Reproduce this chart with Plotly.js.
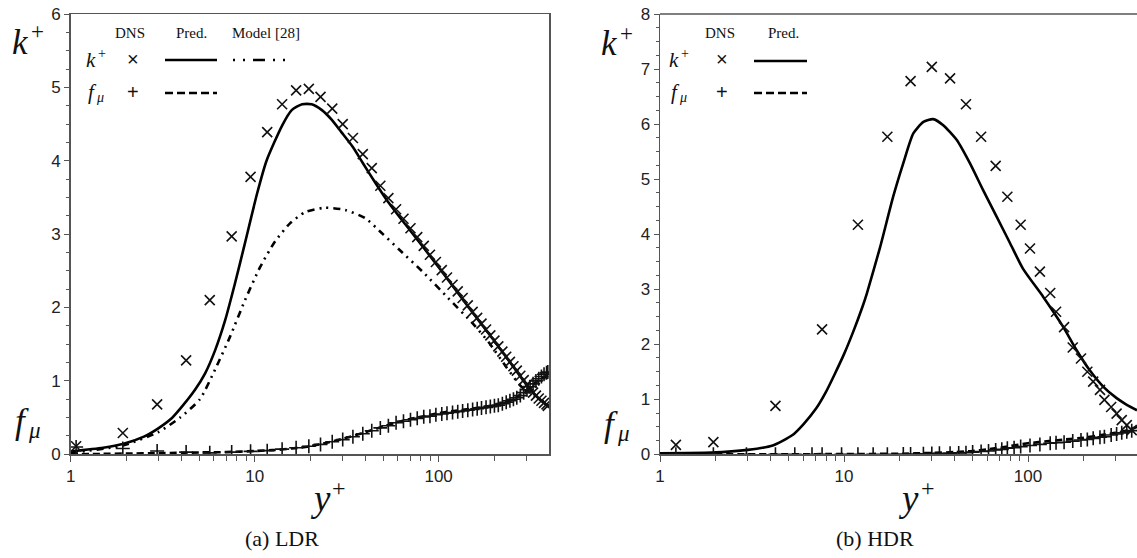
<!DOCTYPE html>
<html>
<head>
<meta charset="utf-8">
<script src="https://cdn.plot.ly/plotly-3.0.1.min.js"></script>
<style>html,body{margin:0;padding:0;background:#fff;}#chart{width:1137px;height:558px;}</style>
</head>
<body>
<div id="chart"></div>
<script>
// ---------------- DATA ----------------
// (a) LDR
const LDR_DNS_X = [1.07, 1.92, 2.95, 4.24, 5.7, 7.5, 9.5, 11.7, 14.1, 16.8, 19.7, 22.8, 26.4, 30.1, 34.2, 38.7, 43.3, 48.2, 53.3, 58.7, 64.4, 70.3, 76.5, 83, 89.7, 96.6, 104, 111, 119, 127, 135, 144, 153, 162, 171, 181, 191, 201, 211, 222, 233, 244, 255, 266, 278, 290, 302, 314, 326, 338, 350, 362, 374, 386, 392];
const LDR_K_DNS = [0.11, 0.29, 0.68, 1.28, 2.1, 2.97, 3.78, 4.39, 4.77, 4.96, 4.98, 4.87, 4.71, 4.50, 4.31, 4.09, 3.90, 3.66, 3.49, 3.34, 3.21, 3.08, 2.96, 2.84, 2.72, 2.62, 2.51, 2.41, 2.31, 2.22, 2.13, 2.03, 1.94, 1.86, 1.78, 1.70, 1.62, 1.55, 1.47, 1.40, 1.33, 1.26, 1.20, 1.14, 1.07, 1.01, 0.95, 0.89, 0.84, 0.80, 0.76, 0.73, 0.70, 0.68, 0.66];
const LDR_F_DNS = [0.10, 0.08, 0.045, 0.03, 0.02, 0.03, 0.04, 0.05, 0.07, 0.09, 0.11, 0.135, 0.17, 0.20, 0.24, 0.28, 0.32, 0.36, 0.39, 0.43, 0.45, 0.47, 0.49, 0.51, 0.52, 0.54, 0.55, 0.56, 0.57, 0.58, 0.59, 0.60, 0.61, 0.62, 0.63, 0.64, 0.65, 0.66, 0.67, 0.69, 0.71, 0.73, 0.75, 0.77, 0.80, 0.84, 0.88, 0.92, 0.96, 1.00, 1.03, 1.06, 1.09, 1.11, 1.12];
const LDR_PRED_K_X = [1, 1.5, 1.92, 2.5, 2.98, 3.5, 3.93, 4.74, 5.37, 6.1, 6.9, 7.8, 8.8, 10.3, 11.6, 14.1, 15.9, 18.1, 20.4, 23.2, 26.2, 29.6, 34.1, 38.7, 45, 52.4, 70, 100, 150, 200, 250, 300, 350, 398];
const LDR_PRED_K = [0.04, 0.09, 0.14, 0.24, 0.35, 0.48, 0.62, 0.88, 1.10, 1.42, 1.82, 2.32, 2.85, 3.55, 4.00, 4.48, 4.69, 4.77, 4.77, 4.69, 4.56, 4.39, 4.19, 3.97, 3.71, 3.46, 3.05, 2.55, 1.96, 1.55, 1.22, 0.95, 0.76, 0.65];
const LDR_PRED_F_X = [1, 1.5, 2, 3, 4, 5, 7, 10, 13, 16, 20, 25, 30, 40, 50, 60, 70, 80, 100, 120, 150, 200, 250, 300, 330, 360, 398];
const LDR_PRED_F = [0.0, 0.005, 0.01, 0.015, 0.02, 0.025, 0.03, 0.045, 0.06, 0.08, 0.11, 0.16, 0.21, 0.30, 0.38, 0.44, 0.48, 0.51, 0.56, 0.59, 0.62, 0.67, 0.74, 0.87, 0.96, 1.03, 1.08];
const LDR_MODEL_X = [1, 1.92, 2.98, 3.93, 5.04, 6.08, 7.34, 8.86, 10.7, 12.9, 15.6, 18.8, 24.1, 31, 39.8, 49.8, 61.6, 82.5, 112.5, 153.6, 188, 233, 282, 340, 398];
const LDR_MODEL_K = [0.02, 0.12, 0.30, 0.50, 0.75, 1.15, 1.60, 2.10, 2.55, 2.90, 3.15, 3.30, 3.36, 3.33, 3.22, 3.00, 2.78, 2.48, 2.13, 1.78, 1.52, 1.19, 0.92, 0.78, 0.66];

// (b) HDR
const HDR_K_DNS_X = [1.22, 1.95, 4.24, 7.6, 11.9, 17.2, 23.0, 30, 37.7, 46, 55.6, 66.7, 77.2, 91.2, 102.5, 116, 132, 142, 157, 175, 194, 210, 226, 246, 260, 283, 303, 323, 344, 366];
const HDR_K_DNS = [0.17, 0.22, 0.88, 2.27, 4.17, 5.77, 6.78, 7.04, 6.83, 6.36, 5.77, 5.24, 4.68, 4.17, 3.74, 3.32, 2.93, 2.59, 2.31, 1.94, 1.74, 1.50, 1.32, 1.17, 0.99, 0.86, 0.74, 0.62, 0.53, 0.44];
const HDR_F_DNS_X = [1.22, 1.95, 2.95, 4.24, 5.4, 6.7, 7.6, 9.7, 11.9, 14.4, 17.2, 21, 23, 27, 30, 33, 37.7, 42, 46, 50, 55.6, 61, 66.7, 72, 77.2, 84, 91.2, 102.5, 116, 132, 142, 157, 175, 194, 210, 226, 246, 260, 283, 303, 323, 344, 366];
const HDR_F_DNS = [0, 0, 0, 0, 0, 0, 0, 0, 0, 0, 0, 0.005, 0.005, 0.01, 0.015, 0.02, 0.02, 0.025, 0.03, 0.04, 0.05, 0.06, 0.08, 0.09, 0.11, 0.12, 0.14, 0.16, 0.18, 0.20, 0.21, 0.22, 0.24, 0.26, 0.27, 0.29, 0.31, 0.32, 0.35, 0.37, 0.39, 0.41, 0.43];
const HDR_PRED_K_X = [1, 1.9, 3.0, 4.1, 5.25, 6.03, 7.08, 7.94, 8.91, 10, 11.2, 12.6, 13.3, 15.7, 18.5, 21, 23.8, 27, 30.5, 34.6, 41, 48.3, 57, 67.5, 80, 94, 121, 155, 183, 216, 256, 303, 344, 391];
const HDR_PRED_K = [0.02, 0.03, 0.08, 0.16, 0.35, 0.55, 0.84, 1.12, 1.46, 1.82, 2.22, 2.68, 2.92, 3.76, 4.68, 5.29, 5.83, 6.04, 6.09, 5.98, 5.71, 5.29, 4.80, 4.32, 3.83, 3.37, 2.86, 2.32, 1.90, 1.53, 1.23, 1.02, 0.90, 0.80];
const HDR_PRED_F_X = [1, 5, 10, 20, 30, 40, 50, 60, 80, 100, 130, 160, 200, 250, 300, 350, 391];
const HDR_PRED_F = [0, 0, 0.005, 0.01, 0.025, 0.04, 0.06, 0.09, 0.15, 0.20, 0.24, 0.27, 0.30, 0.35, 0.39, 0.44, 0.50];

// Ticks
const X_MAJOR_VALS = [1, 10, 100];
const X_MAJOR_TEXT = ['1', '10', '100'];
const X_MINOR_VALS = [2,3,4,5,6,7,8,9,20,30,40,50,60,70,80,90,200,300];
const LDR_Y_TICKS = [0,1,2,3,4,5,6];
const HDR_Y_TICKS = [0,1,2,3,4,5,6,7,8];

// Text
const LEG_HEAD_L = ['DNS', 'Pred.', 'Model [28]'];
const LEG_HEAD_R = ['DNS', 'Pred.'];
const CAPTIONS = ['(a) LDR', '(b) HDR'];

// ---------------- LAYOUT ----------------
const W = 1137, H = 558;
const px = v => v / W;
const py = v => 1 - v / H;
const yDom = [py(454.3), py(14)];
const SERIF = 'Liberation Serif, Times New Roman, serif';
const SANS = 'Liberation Sans, Arial, sans-serif';
const AX = '#555';

function xAxis(domain, maxv, anchor) {
  return {
    type: 'log', domain: domain, range: [0, Math.log10(maxv)], anchor: anchor,
    tickmode: 'array', tickvals: X_MAJOR_VALS, ticktext: X_MAJOR_TEXT,
    ticks: 'outside', ticklen: 6, tickwidth: 1, tickcolor: AX,
    minor: {tickmode: 'array', tickvals: X_MINOR_VALS, ticks: 'outside', ticklen: 5, tickwidth: 1, tickcolor: AX, showgrid: false},
    showline: true, linecolor: AX, linewidth: 1.5,
    showgrid: false, zeroline: false,
    tickfont: {family: SANS, size: 17, color: '#222'}
  };
}
function yAxis(rng, ticks, anchor) {
  return {
    domain: yDom, range: rng, anchor: anchor,
    tickmode: 'array', tickvals: ticks,
    ticks: 'outside', ticklen: 5, tickwidth: 1, tickcolor: AX,
    minor: {dtick: 0.25, ticks: 'outside', ticklen: 3, tickcolor: AX, showgrid: false},
    showline: true, linecolor: AX, linewidth: 1.5,
    showgrid: false, zeroline: false,
    tickfont: {family: SANS, size: 17, color: '#222'}
  };
}

const xm = {symbol: 'x-thin', size: 10, color: '#111', line: {width: 1.6, color: '#111'}};
const pm = {symbol: 'cross-thin', size: 10, color: '#111', line: {width: 1.6, color: '#111'}};

const traces = [
  {x: LDR_PRED_K_X, y: LDR_PRED_K, mode: 'lines', line: {color: '#000', width: 2.6, shape: 'spline', smoothing: 0.6}, xaxis: 'x', yaxis: 'y'},
  {x: LDR_MODEL_X, y: LDR_MODEL_K, mode: 'lines', line: {color: '#000', width: 2.6, dash: '7px,5px,2px,5px,2px,5px', shape: 'spline', smoothing: 0.6}, xaxis: 'x', yaxis: 'y'},
  {x: LDR_PRED_F_X, y: LDR_PRED_F, mode: 'lines', line: {color: '#000', width: 2.6, dash: '7px,4px', shape: 'spline', smoothing: 0.6}, xaxis: 'x', yaxis: 'y'},
  {x: LDR_DNS_X, y: LDR_K_DNS, mode: 'markers', marker: xm, xaxis: 'x', yaxis: 'y'},
  {x: LDR_DNS_X, y: LDR_F_DNS, mode: 'markers', marker: pm, xaxis: 'x', yaxis: 'y'},

  {x: HDR_PRED_K_X, y: HDR_PRED_K, mode: 'lines', line: {color: '#000', width: 2.6, shape: 'spline', smoothing: 0.6}, xaxis: 'x2', yaxis: 'y2'},
  {x: HDR_PRED_F_X, y: HDR_PRED_F, mode: 'lines', line: {color: '#000', width: 2.6, dash: '7px,4px', shape: 'spline', smoothing: 0.6}, xaxis: 'x2', yaxis: 'y2'},
  {x: HDR_K_DNS_X, y: HDR_K_DNS, mode: 'markers', marker: xm, xaxis: 'x2', yaxis: 'y2'},
  {x: HDR_F_DNS_X, y: HDR_F_DNS, mode: 'markers', marker: pm, xaxis: 'x2', yaxis: 'y2'}
];

const ann = [];
function txt(t, x, y, size, family, italic) {
  ann.push({text: t, x: px(x), y: py(y), xref: 'paper', yref: 'paper',
    showarrow: false, xanchor: 'center', yanchor: 'middle',
    font: {family: family, size: size, color: '#111', style: italic ? 'italic' : 'normal'}});
}
// math-like symbol: base letter with a raised "+" or lowered "μ"
function sym(base, script, x, y, size, lowered) {
  txt(base, x, y, size, SERIF, true);
  const s = Math.round(size * 0.66);
  if (lowered) txt(script, x + size * 0.36, y + size * 0.26, s, SERIF, true);
  else txt(script, x + size * 0.5, y - size * 0.3, s, SERIF, false);
}
// axis titles
sym('k', '+', 20, 42, 35, false);
sym('f', 'μ', 22, 421, 35, true);
sym('y', '+', 320, 499, 37, false);
sym('k', '+', 609, 44, 35, false);
sym('f', 'μ', 611, 424, 35, true);
sym('y', '+', 909, 499, 37, false);
// captions
txt(CAPTIONS[0], 282, 538, 22, SERIF, false);
txt(CAPTIONS[1], 875, 538, 22, SERIF, false);
// legend left
txt(LEG_HEAD_L[0], 130, 33, 15, SERIF, false);
txt(LEG_HEAD_L[1], 191, 33, 15, SERIF, false);
txt(LEG_HEAD_L[2], 266, 33, 15, SERIF, false);
sym('k', '+', 91, 60, 21, false);
sym('f', 'μ', 92, 92, 21, true);
txt('×', 133, 59, 20, SANS, false);
txt('+', 133, 92, 20, SANS, false);
// legend right
txt(LEG_HEAD_R[0], 720, 33, 15, SERIF, false);
txt(LEG_HEAD_R[1], 783, 33, 15, SERIF, false);
sym('k', '+', 674, 60, 21, false);
sym('f', 'μ', 675, 92, 21, true);
txt('×', 722, 59, 20, SANS, false);
txt('+', 722, 92, 20, SANS, false);

const shapes = [
  {type: 'line', xref: 'paper', yref: 'paper', x0: px(165), x1: px(217), y0: py(60), y1: py(60), line: {color: '#000', width: 2.6}},
  {type: 'line', xref: 'paper', yref: 'paper', x0: px(233), x1: px(291), y0: py(60), y1: py(60), line: {color: '#000', width: 2.6, dash: '2px,8px,2px,8px,12px,8px'}},
  {type: 'line', xref: 'paper', yref: 'paper', x0: px(165), x1: px(217), y0: py(93), y1: py(93), line: {color: '#000', width: 2.6, dash: '8px,4px'}},
  {type: 'line', xref: 'paper', yref: 'paper', x0: px(754), x1: px(807), y0: py(61), y1: py(61), line: {color: '#000', width: 2.6}},
  {type: 'line', xref: 'paper', yref: 'paper', x0: px(754), x1: px(807), y0: py(93), y1: py(93), line: {color: '#000', width: 2.6, dash: '8px,4px'}},
  // top border of right panel (its right border is outside the picture)
  {type: 'line', xref: 'x2 domain', yref: 'y2 domain', x0: 0, x1: 1, y0: 1, y1: 1, line: {color: AX, width: 1.5}}
];

const xa1 = xAxis([px(70.7), px(549)], 398, 'y');
xa1.mirror = true;
const ya1 = yAxis([0, 6], LDR_Y_TICKS, 'x');
ya1.mirror = true;
const xa2 = xAxis([px(660), 1], 391, 'y2');
const ya2 = yAxis([0, 8], HDR_Y_TICKS, 'x2');

const layout = {
  width: W, height: H,
  margin: {l: 0, r: 0, t: 0, b: 0, pad: 0},
  paper_bgcolor: '#fff', plot_bgcolor: '#fff',
  showlegend: false,
  xaxis: xa1, yaxis: ya1, xaxis2: xa2, yaxis2: ya2,
  annotations: ann, shapes: shapes
};

Plotly.newPlot('chart', traces, layout, {staticPlot: true, displayModeBar: false});
</script>
</body>
</html>
